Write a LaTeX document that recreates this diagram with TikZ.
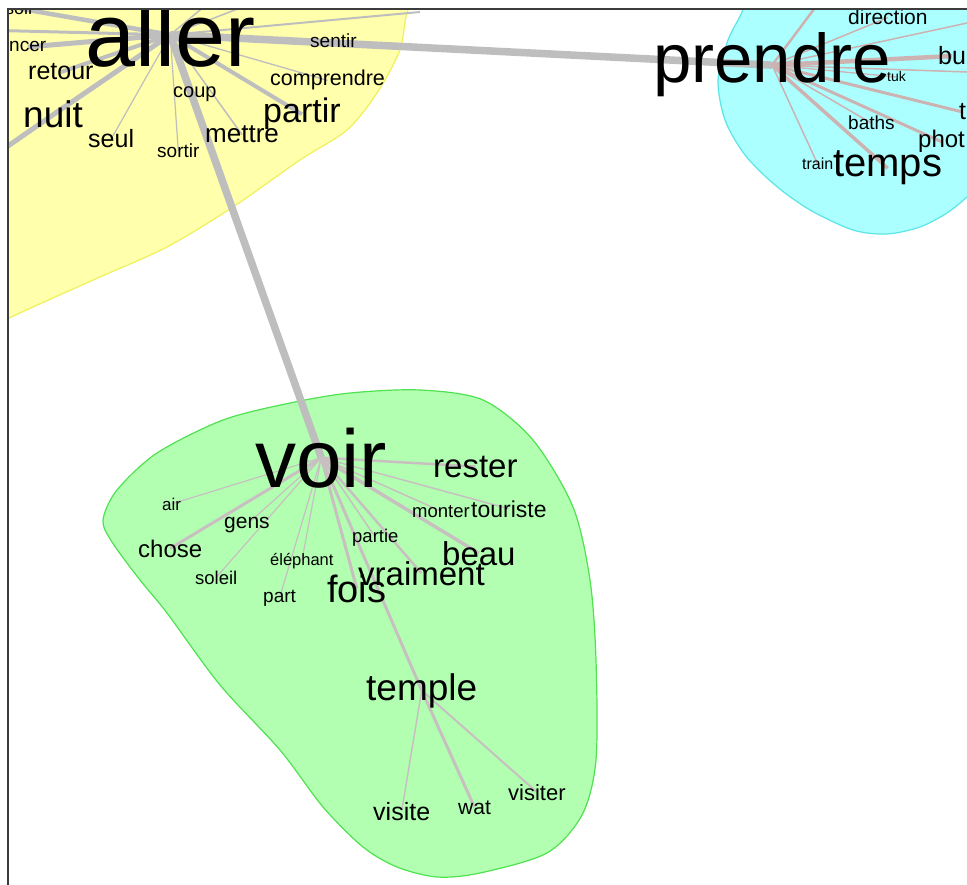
\documentclass[tikz,border=0pt]{standalone}
\usepackage{fontspec}
\setmainfont{Liberation Sans}
\newcommand\fs[1]{\fontsize{#1}{#1}\selectfont}
\pgfdeclarelayer{regions}
\pgfdeclarelayer{edges}
\pgfsetlayers{regions,edges,main}
\definecolor{yfill}{RGB}{255,255,172}
\definecolor{yline}{RGB}{240,240,90}
\definecolor{cfill}{RGB}{172,255,255}
\definecolor{cline}{RGB}{90,230,230}
\definecolor{gfill}{RGB}{178,255,178}
\definecolor{gline}{RGB}{80,225,80}
\definecolor{edgeA}{RGB}{190,190,190}
\definecolor{edgeC}{RGB}{205,178,178}
\definecolor{edgeG}{RGB}{200,192,192}
\definecolor{framec}{RGB}{60,60,60}
\tikzset{
  w/.style={inner sep=0pt, anchor=base west, text=black},
  ea/.style={draw=edgeA, line width=#1},
  ec/.style={draw=edgeC, line width=#1},
  eg/.style={draw=edgeG, line width=#1},
}
\begin{document}
\begin{tikzpicture}[x=1pt,y=-1pt]
\useasboundingbox (0,0) rectangle (967,885);

% ---------- regions ----------
\begin{pgfonlayer}{regions}
\fill[white] (0,0) rectangle (967,885);
\begin{scope}
\clip (8,9) rectangle (967,885);
\filldraw[fill=yfill, draw=yline, line width=1.2pt]
  plot[smooth] coordinates {(430,-20) (408,10) (400,50) (377,93) (347,130) (300,160) (233,207) (167,247) (100,277) (33,307) (-10,327)}
  -- (-20,-20) -- cycle;
\filldraw[fill=cfill, draw=cline, line width=1.2pt]
  plot[smooth] coordinates {(745,-20) (743,9) (728,40) (718,80) (725,120) (745,155) (775,185) (810,210) (853,230) (887,234) (920,227) (947,213) (967,197) (990,175)}
  -- (990,-20) -- cycle;
\filldraw[fill=gfill, draw=gline, line width=1.2pt]
  plot[smooth cycle] coordinates {(350,393) (420,390) (483,400) (533,440) (573,507) (590,580) (596,660) (596,760) (582,815) (547,853) (480,873) (437,877) (397,867) (363,847) (323,807) (280,750) (220,685) (167,613) (140,580) (112,542) (103,520) (117,490) (157,453) (223,420) (290,403)};
\end{scope}
\end{pgfonlayer}

% ---------- words ----------
\begin{scope}
\clip (8,9) rectangle (967,885);
% aller cluster
\node[w, font=\fs{90}] (aller) at (85,67) {aller};
\node[w, font=\fs{18}] (soir) at (5,15) {soir};
\node[w, font=\fs{19}] (ncer) at (9,52) {ncer};
\node[w, font=\fs{25}] (retour) at (28,80) {retour};
\node[w, font=\fs{37}] (nuit) at (23,128) {nuit};
\node[w, font=\fs{25}] (seul) at (88,148) {seul};
\node[w, font=\fs{19}] (sortir) at (157,158) {sortir};
\node[w, font=\fs{20}] (coup) at (173,98) {coup};
\node[w, font=\fs{26}] (mettre) at (205,143) {mettre};
\node[w, font=\fs{34}] (partir) at (263,123) {partir};
\node[w, font=\fs{21.5}] (comprendre) at (270,86) {comprendre};
\node[w, font=\fs{19}] (sentir) at (310,48) {sentir};
% prendre cluster
\node[w, font=\fs{69}] (prendre) at (653,83) {prendre};
\node[w, font=\fs{21}] (direction) at (848,25) {direction};
\node[w, font=\fs{25}] (bu) at (938,65) {bu};
\node[w, font=\fs{14}] (tuk) at (887,82) {tuk};
\node[w, font=\fs{25}] (t) at (959,120) {t};
\node[w, font=\fs{24}] (phot) at (918,148) {phot};
\node[w, font=\fs{19}] (baths) at (848,130) {baths};
\node[w, font=\fs{16}] (train) at (802,170) {train};
\node[w, font=\fs{40}] (temps) at (833,177) {temps};
% voir cluster
\node[w, font=\fs{82}] (voir) at (255,487) {voir};
\node[w, font=\fs{33}] (rester) at (433,477) {rester};
\node[w, font=\fs{17}] (air) at (162,510) {air};
\node[w, font=\fs{21}] (gens) at (224,528) {gens};
\node[w, font=\fs{24}] (chose) at (138,557) {chose};
\node[w, font=\fs{18.5}] (soleil) at (195,584) {soleil};
\node[w, font=\fs{16.5}] (elephant) at (270,565) {éléphant};
\node[w, font=\fs{19}] (part) at (263,602) {part};
\node[w, font=\fs{18.5}] (partie) at (352,542) {partie};
\node[w, font=\fs{18.5}] (monter) at (412,517) {monter};
\node[w, font=\fs{23}] (touriste) at (471,517) {touriste};
\node[w, font=\fs{33}] (beau) at (442,565) {beau};
\node[w, font=\fs{33}] (vraiment) at (358,585) {vraiment};
\node[w, font=\fs{38}] (fois) at (327,602) {fois};
\node[w, font=\fs{37}] (temple) at (366,700) {temple};
\node[w, font=\fs{25}] (visite) at (373,820) {visite};
\node[w, font=\fs{21}] (wat) at (458,814) {wat};
\node[w, font=\fs{22}] (visiter) at (508,800) {visiter};
\end{scope}

% ---------- connectors ----------
\coordinate (fA1) at (-15,162);
\coordinate (fA2) at (-20,30);
\coordinate (fA3) at (300,-15);
\coordinate (fA4) at (420,12);
\coordinate (fA5) at (230,-15);
\coordinate (fP1) at (832,-15);
\coordinate (fP2) at (995,17);
\coordinate (fP3) at (995,73);
\begin{pgfonlayer}{edges}
\begin{scope}
\clip (8,9) rectangle (967,885);
% aller
\draw[ea=4.5] (aller.center) -- (soir.center);
\draw[ea=5] (aller.center) -- (ncer.center);
\draw[ea=3] (aller.center) -- (fA2);
\draw[ea=4] (aller.center) -- (retour.center);
\draw[ea=5] (aller.center) -- (nuit.center) -- (fA1);
\draw[ea=1.2] (aller.center) -- (seul.center);
\draw[ea=1.2] (aller.center) -- (sortir.center);
\draw[ea=1.2] (aller.center) -- (coup.center);
\draw[ea=1.5] (aller.center) -- (mettre.center);
\draw[ea=4] (aller.center) -- (partir.center);
\draw[ea=1.3] (aller.center) -- (comprendre.center);
\draw[ea=2] (aller.center) -- (sentir.center);
\draw[ea=1.5] (aller.center) -- (fA3);
\draw[ea=2] (aller.center) -- (fA4);
\draw[ea=1.5] (aller.center) -- (fA5);
\draw[ea=7.5] (aller.center) -- (prendre.center);
\draw[ea=7.5] (aller.center) -- (voir.center);
% prendre
\draw[ec=2.5] (prendre.center) -- (fP1);
\draw[ec=1.5] (prendre.center) -- (direction.center);
\draw[ec=1.5] (prendre.center) -- (fP2);
\draw[ec=4.5] (prendre.center) -- (bu.center);
\draw[ec=1.5] (prendre.center) -- (fP3);
\draw[ec=1.3] (prendre.center) -- (tuk.center);
\draw[ec=3] (prendre.center) -- (t.center);
\draw[ec=3] (prendre.center) -- (phot.center);
\draw[ec=3.5] (prendre.center) -- (temps.center);
\draw[ec=1.5] (prendre.center) -- (baths.center);
\draw[ec=1.5] (prendre.center) -- (train.center);
% voir
\draw[eg=2.5] (voir.center) -- (rester.center);
\draw[eg=1.5] (voir.center) -- (monter.center);
\draw[eg=1.5] (voir.center) -- (touriste.center);
\draw[eg=3.5] (voir.center) -- (beau.center);
\draw[eg=2.5] (voir.center) -- (vraiment.center);
\draw[eg=1.5] (voir.center) -- (partie.center);
\draw[eg=3] (voir.center) -- (fois.center);
\draw[eg=3] (voir.center) -- (temple.center);
\draw[eg=1.2] (voir.center) -- (part.center);
\draw[eg=1.2] (voir.center) -- (elephant.center);
\draw[eg=1.2] (voir.center) -- (soleil.center);
\draw[eg=3] (voir.center) -- (chose.center);
\draw[eg=1.2] (voir.center) -- (gens.center);
\draw[eg=1.2] (voir.center) -- (air.center);
% temple
\draw[eg=1.5] (temple.center) -- (visite.center);
\draw[eg=3] (temple.center) -- (wat.center);
\draw[eg=2] (temple.center) -- (visiter.center);
\end{scope}
\end{pgfonlayer}

% ---------- frame ----------
\draw[framec, line width=1.5pt] (8,885) -- (8,9) -- (967,9);
\end{tikzpicture}
\end{document}
